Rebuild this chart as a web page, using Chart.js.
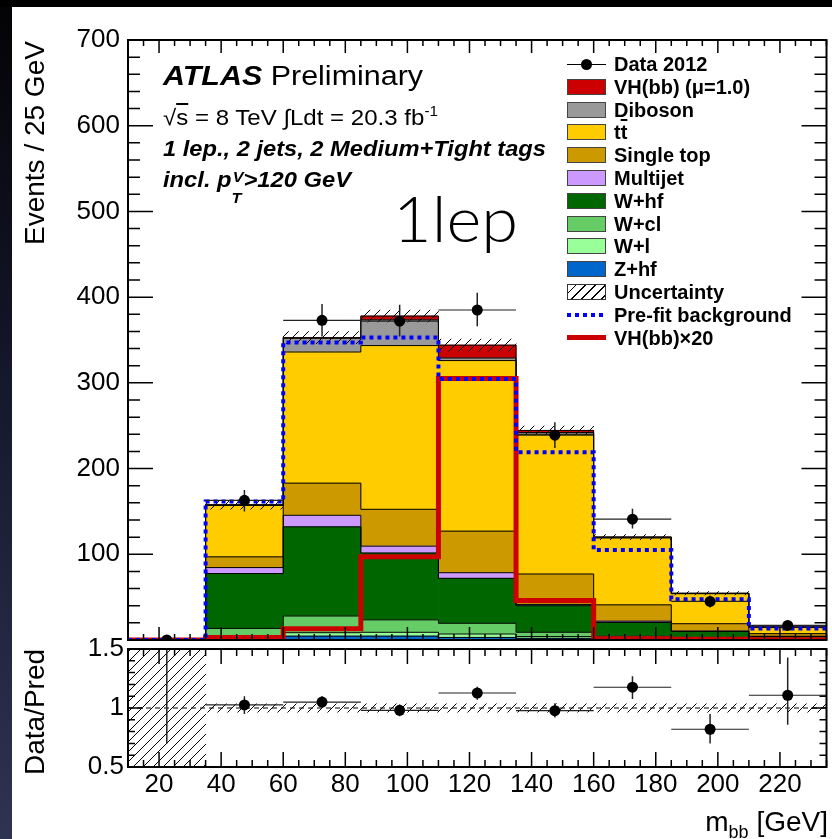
<!DOCTYPE html>
<html>
<head>
<meta charset="utf-8">
<title>m_bb distribution, 1 lepton</title>
<script src="https://cdn.jsdelivr.net/npm/chart.js@4.4.1/dist/chart.umd.min.js"></script>
<style>
  html, body { margin:0; padding:0; background:#fff; overflow:hidden; }
  #wrap { position:relative; width:832px; height:839px; overflow:hidden; background:#fff;
          font-family:'Liberation Sans', Arial, Helvetica, sans-serif; color:#000; }
  #topband { position:absolute; left:0; top:0; width:832px; height:7px; background:#000; }
  #leftband { position:absolute; left:0; top:0; width:12px; height:839px;
              background:linear-gradient(to bottom, #030305 0%, #15172b 45%, #2f3352 100%); }
  canvas { position:absolute; left:0; }
  .t { position:absolute; white-space:nowrap; line-height:1; transform-origin:0 0; }
  .lgtext { font-weight:bold; font-size:20px; }
  .sw { position:absolute; box-sizing:border-box; }
</style>
</head>
<body>
<div id="wrap">
  <div id="leftband"></div>
  <div id="topband"></div>
  <canvas id="cMain" width="832" height="670" style="top:0"></canvas>
  <canvas id="cRatio" width="832" height="229" style="top:610px"></canvas>

  <div class="t fit" data-fit="260" style="left:163px; top:63px; font-size:27px;"><b><i>ATLAS</i></b>&nbsp;Preliminary</div>
  <div class="t fit" data-fit="275" style="left:163px; top:107px; font-size:22px;">√<span style="text-decoration:overline">s</span> = 8 TeV ∫Ldt = 20.3 fb<sup style="font-size:14px;line-height:0;vertical-align:9px">-1</sup></div>
  <div class="t fit" data-fit="383" style="left:163px; top:138px; font-size:22px; font-weight:bold; font-style:italic;">1 lep., 2 jets, 2 Medium+Tight tags</div>
  <div class="t fit" data-fit="188" style="left:163px; top:169px; font-size:22px; font-weight:bold; font-style:italic;">incl. p<span style="position:relative;display:inline-block;width:11px;height:22px;vertical-align:top;"><span style="position:absolute;left:1px;top:0px;font-size:15px;">V</span><span style="position:absolute;left:0;top:21px;font-size:15px;">T</span></span>&gt;120 GeV</div>
  <div class="t fit" data-fit="125" style="left:393px; top:186px; font-size:64px; font-family:Lato,'Open Sans',sans-serif; font-weight:300;">1lep</div>

  <div class="t" id="ytitle" style="font-size:28px;">Events / 25 GeV</div>
  <div class="t" id="rtitle" style="font-size:28px;">Data/Pred</div>
  <div class="t" id="xtitle" style="right:4px; top:808px; font-size:28px;">m<sub style="font-size:18px;line-height:0;vertical-align:-7px">bb</sub> [GeV]</div>

  <div id="legend"></div>
</div>

<script>
// ---------------- data ----------------
const binEdges    = [10, 35, 60, 85, 110, 135, 160, 185, 210, 235];
const zHF         = [0.1, 1.5, 4.5, 4.5, 3, 2, 1, 0.5, 0.3];
const wL          = [0.1, 2, 4, 4.5, 4, 2, 1, 0.5, 0.3];
const wCL         = [0.1, 10, 19.5, 14.5, 12.5, 5, 2.5, 1, 0.5];
const wHF         = [0, 64, 104, 78, 52.5, 31, 16, 8, 3];
const multijet    = [0, 7, 13.5, 8, 6.5, 1.5, 1.5, 0.5, 0.3];
const singleTop   = [0, 12.5, 37.5, 43, 48.5, 35.5, 19, 8.5, 3];
const ttbar       = [0, 60, 153, 191, 199, 163, 78, 35, 7.5];
const diboson     = [0, 0.5, 16, 30, 3, 2, 1, 0.5, 0.2];
const vhSignal    = [0, 0.2, 0.7, 4.5, 15, 2.5, 0.1, 0.05, 0.02];
const bkgUnc      = [0.3, 5, 7, 7, 7, 5, 3, 2, 1];
const preFitBkg   = [0, 161.5, 347, 353, 304.5, 219, 105, 47.5, 13.5];
const vhTimes20   = [0, 3, 13, 97, 305, 46, 1.5, 0.8, 0.3];
const dataVal     = [0, 163, 373, 372, 385, 239, 141, 45, 17];
const dataLo      = [0, 150, 354, 354, 366, 224, 130, 38, 13];
const dataHi      = [0, 175, 392, 391, 405, 254, 153, 52, 21];
const ratioVal    = [null, 1.026, 1.05, 0.98, 1.127, 0.977, 1.176, 0.82, 1.108];
const ratioLo     = [0.70, 0.95, 1.00, 0.93, 1.07, 0.92, 1.077, 0.70, 0.857];
const ratioHi     = [1.50, 1.10, 1.10, 1.03, 1.18, 1.04, 1.27, 0.95, 1.427];
const ratioBandLo = [0.5, 0.965, 0.965, 0.965, 0.965, 0.965, 0.965, 0.965, 0.965];
const ratioBandHi = [1.5, 1.035, 1.035, 1.035, 1.035, 1.035, 1.035, 1.035, 1.035];
const ratioRef    = 1;
const xTickLabels = [20, 40, 60, 80, 100, 120, 140, 160, 180, 200, 220];
const yTickLabels = [100, 200, 300, 400, 500, 600, 700];
const ratioTickLabels = [0.5, 1, 1.5];

// ---------------- styles ----------------
const stack       = [zHF, wL, wCL, wHF, multijet, singleTop, ttbar, diboson, vhSignal];
const stackColors = ['#0066cc', '#99ff99', '#66cc66', '#006600', '#cc99ff', '#cc9900', '#ffcc00', '#999999', '#cc0000'];

Chart.defaults.font.family = "'Liberation Sans', Arial, Helvetica, sans-serif";
Chart.defaults.color = '#000';

const centers = binEdges.slice(0, -1).map((e, i) => (e + binEdges[i + 1]) / 2);
const xMin = binEdges[0], xMax = binEdges[binEdges.length - 1];
const stepPts = arr => [...arr.map((v, i) => ({x: binEdges[i], y: v})), {x: xMax, y: arr[arr.length - 1]}];

function makeHatch(canvas, s, lw) {
  const c = document.createElement('canvas'); c.width = s; c.height = s;
  const g = c.getContext('2d');
  g.strokeStyle = '#000'; g.lineWidth = lw;
  g.beginPath();
  g.moveTo(-1, s + 1); g.lineTo(s + 1, -1);
  g.moveTo(-2, 2); g.lineTo(2, -2);
  g.moveTo(s - 2, s + 2); g.lineTo(s + 2, s - 2);
  g.stroke();
  return canvas.getContext('2d').createPattern(c, 'repeat');
}

const innerTicks = {
  id: 'innerTicks',
  afterDatasetsDraw(chart, args, o) {
    const {ctx, chartArea: a} = chart;
    const xs = chart.scales.x, ys = chart.scales.y;
    ctx.save();
    ctx.strokeStyle = '#000';
    ctx.lineWidth = o.tickWidth;
    ctx.beginPath();
    for (let k = 0; ; k++) {
      const v = xs.min + k * o.xMinor;
      if (v > xs.max + 1e-6) break;
      const major = Math.abs(v / o.xMajor - Math.round(v / o.xMajor)) < 1e-6;
      const L = major ? o.xMajorLen : o.xMinorLen;
      const p = xs.getPixelForValue(v);
      ctx.moveTo(p, a.bottom); ctx.lineTo(p, a.bottom - L);
      ctx.moveTo(p, a.top); ctx.lineTo(p, a.top + L);
    }
    for (let k = 0; ; k++) {
      const v = ys.min + k * o.yMinor;
      if (v > ys.max + 1e-6) break;
      const major = Math.abs(v / o.yMajor - Math.round(v / o.yMajor)) < 1e-6;
      const L = major ? o.yMajorLen : o.yMinorLen;
      const p = ys.getPixelForValue(v);
      ctx.moveTo(a.left, p); ctx.lineTo(a.left + L, p);
      ctx.moveTo(a.right, p); ctx.lineTo(a.right - L, p);
    }
    ctx.stroke();
    ctx.lineWidth = o.frameWidth;
    ctx.strokeRect(a.left, a.top, a.right - a.left, a.bottom - a.top);
    ctx.restore();
  }
};

// ---------------- main panel ----------------
const cMain = document.getElementById('cMain');
const hatchMain = makeHatch(cMain, 10, 1);
const mainDatasets = [];
let base = centers.map(() => 0);
stack.forEach((vals, k) => {
  const lo = base, hi = base.map((b, i) => b + vals[i]);
  mainDatasets.push({type: 'bar', xAxisID: 'x', yAxisID: 'y',
    data: centers.map((c, i) => ({x: c, y: [lo[i], hi[i]]})),
    backgroundColor: stackColors[k], borderWidth: 0, grouped: false,
    barPercentage: 1, categoryPercentage: 1, order: 20 + k});
  mainDatasets.push({type: 'line', xAxisID: 'x', yAxisID: 'y', data: stepPts(hi), stepped: true,
    borderColor: '#000', borderWidth: 1, pointRadius: 0, fill: false, order: 10});
  base = hi;
});
const total = base;
mainDatasets.push({type: 'bar', xAxisID: 'x', yAxisID: 'y',
  data: centers.map((c, i) => ({x: c, y: [total[i] - bkgUnc[i], total[i] + bkgUnc[i]]})),
  backgroundColor: hatchMain, borderWidth: 0, grouped: false, barPercentage: 1, categoryPercentage: 1, order: 8});
mainDatasets.push({type: 'line', xAxisID: 'x', yAxisID: 'y', data: stepPts(vhTimes20), stepped: true,
  borderColor: '#cc0000', borderWidth: 5, borderJoinStyle: 'miter', pointRadius: 0, fill: false, order: 6});
mainDatasets.push({type: 'line', xAxisID: 'x', yAxisID: 'y', data: stepPts(preFitBkg), stepped: true,
  borderColor: '#0000ff', borderWidth: 4, borderDash: [4, 4], pointRadius: 0, fill: false, order: 5});
mainDatasets.push({type: 'line', xAxisID: 'x', yAxisID: 'y',
  data: centers.flatMap((c, i) => [{x: c, y: dataLo[i]}, {x: c, y: dataHi[i]}, {x: c, y: null}]),
  borderColor: '#222', borderWidth: 1.5, pointRadius: 0, fill: false, spanGaps: false, order: 2});
mainDatasets.push({type: 'line', xAxisID: 'x', yAxisID: 'y',
  data: centers.flatMap((c, i) => [{x: binEdges[i], y: dataVal[i]}, {x: binEdges[i + 1], y: dataVal[i]}, {x: binEdges[i + 1], y: null}]),
  borderColor: '#222', borderWidth: 1.2, pointRadius: 0, fill: false, spanGaps: false, order: 2});
mainDatasets.push({type: 'scatter', xAxisID: 'x', yAxisID: 'y',
  data: centers.map((c, i) => ({x: c, y: dataVal[i]})),
  pointRadius: 5.5, pointBackgroundColor: '#000', pointBorderWidth: 0, clip: 0, order: 0});

new Chart(cMain, {
  type: 'bar',
  data: {datasets: mainDatasets},
  options: {
    responsive: false, animation: false, events: [],
    layout: {padding: {left: 0, right: 4, top: 40, bottom: 30}},
    plugins: {legend: {display: false}, tooltip: {enabled: false},
      innerTicks: {xMajor: 20, xMinor: 5, xMajorLen: 13, xMinorLen: 6,
                   yMajor: 100, yMinor: 20, yMajorLen: 25, yMinorLen: 12, tickWidth: 1.5, frameWidth: 2}},
    scales: {
      x: {type: 'linear', min: xMin, max: xMax, offset: false, display: false,
          afterBuildTicks: s => { s.ticks = []; }},
      y: {type: 'linear', min: 0, max: 700, offset: false,
          grid: {display: false, drawTicks: false}, border: {display: false},
          ticks: {padding: 8, font: {size: 26}, color: '#000', callback: v => String(v)},
          afterBuildTicks: s => { s.ticks = yTickLabels.map(v => ({value: v})); },
          afterFit: s => { s.width = 128; }}
    }
  },
  plugins: [innerTicks]
});

// ---------------- ratio panel ----------------
const cRatio = document.getElementById('cRatio');
const hatchRatio = makeHatch(cRatio, 10, 1);
const ratioDatasets = [
  {type: 'bar', xAxisID: 'x', yAxisID: 'y',
   data: centers.map((c, i) => ({x: c, y: [ratioBandLo[i], ratioBandHi[i]]})),
   backgroundColor: hatchRatio, borderWidth: 0, grouped: false, barPercentage: 1, categoryPercentage: 1, order: 5},
  {type: 'line', xAxisID: 'x', yAxisID: 'y', data: [{x: xMin, y: ratioRef}, {x: xMax, y: ratioRef}],
   borderColor: '#000', borderWidth: 1, borderDash: [5, 4], pointRadius: 0, fill: false, order: 4},
  {type: 'line', xAxisID: 'x', yAxisID: 'y',
   data: centers.flatMap((c, i) => [{x: c, y: ratioLo[i]}, {x: c, y: ratioHi[i]}, {x: c, y: null}]),
   borderColor: '#222', borderWidth: 1.5, pointRadius: 0, fill: false, spanGaps: false, order: 2},
  {type: 'line', xAxisID: 'x', yAxisID: 'y',
   data: centers.flatMap((c, i) => ratioVal[i] === null ? [] :
     [{x: binEdges[i], y: ratioVal[i]}, {x: binEdges[i + 1], y: ratioVal[i]}, {x: binEdges[i + 1], y: null}]),
   borderColor: '#222', borderWidth: 1.2, pointRadius: 0, fill: false, spanGaps: false, order: 2},
  {type: 'scatter', xAxisID: 'x', yAxisID: 'y',
   data: centers.map((c, i) => ({x: c, y: ratioVal[i]})),
   pointRadius: 5.5, pointBackgroundColor: '#000', pointBorderWidth: 0, order: 0}
];

new Chart(cRatio, {
  type: 'bar',
  data: {datasets: ratioDatasets},
  options: {
    responsive: false, animation: false, events: [],
    layout: {padding: {left: 0, right: 4, top: 39, bottom: 0}},
    plugins: {legend: {display: false}, tooltip: {enabled: false},
      innerTicks: {xMajor: 20, xMinor: 5, xMajorLen: 15, xMinorLen: 7,
                   yMajor: 0.5, yMinor: 0.1, yMajorLen: 15, yMinorLen: 7, tickWidth: 1.5, frameWidth: 2}},
    scales: {
      x: {type: 'linear', min: xMin, max: xMax, offset: false, display: false,
          afterBuildTicks: s => { s.ticks = []; }},
      xl: {type: 'linear', axis: 'x', position: 'bottom', min: xMin, max: xMax, offset: false,
           grid: {display: false, drawTicks: false}, border: {display: false},
           ticks: {autoSkip: false, maxRotation: 0, minRotation: 0, padding: 2, font: {size: 26}, color: '#000',
                   callback: v => String(v)},
           afterBuildTicks: s => { s.ticks = xTickLabels.map(v => ({value: v})); },
           afterFit: s => { s.height = 72; }},
      y: {type: 'linear', min: 0.5, max: 1.5, offset: false,
          grid: {display: false, drawTicks: false}, border: {display: false},
          ticks: {padding: 4, font: {size: 26}, color: '#000', callback: v => String(v)},
          afterBuildTicks: s => { s.ticks = ratioTickLabels.map(v => ({value: v})); },
          afterFit: s => { s.width = 128; }}
    }
  },
  plugins: [innerTicks]
});

// ---------------- legend ----------------
const legendItems = [
  {label: 'Data 2012', kind: 'data'},
  {label: 'VH(bb) (μ=1.0)', kind: 'fill', color: stackColors[8]},
  {label: 'Diboson', kind: 'fill', color: stackColors[7]},
  {label: 't<span style="text-decoration:overline">t</span>', kind: 'fill', color: stackColors[6]},
  {label: 'Single top', kind: 'fill', color: stackColors[5]},
  {label: 'Multijet', kind: 'fill', color: stackColors[4]},
  {label: 'W+hf', kind: 'fill', color: stackColors[3]},
  {label: 'W+cl', kind: 'fill', color: stackColors[2]},
  {label: 'W+l', kind: 'fill', color: stackColors[1]},
  {label: 'Z+hf', kind: 'fill', color: stackColors[0]},
  {label: 'Uncertainty', kind: 'hatch'},
  {label: 'Pre-fit background', kind: 'prefit'},
  {label: 'VH(bb)×20', kind: 'vh20'}
];
const lg = document.getElementById('legend');
legendItems.forEach((it, i) => {
  const cy = 64 + i * 22.8;
  let sw = '';
  if (it.kind === 'data') {
    sw = `<div class="sw" style="left:567px;top:${cy - 0.5}px;width:39px;height:1px;background:#000"></div>` +
         `<div class="sw" style="left:581px;top:${cy - 5.5}px;width:11px;height:11px;border-radius:50%;background:#000"></div>`;
  } else if (it.kind === 'fill') {
    sw = `<div class="sw" style="left:567px;top:${cy - 8}px;width:39px;height:16px;background:${it.color};border:1px solid #444"></div>`;
  } else if (it.kind === 'hatch') {
    sw = `<div class="sw" style="left:567px;top:${cy - 8}px;width:39px;height:16px;border:1px solid #333;` +
         `background:repeating-linear-gradient(135deg, #fff 0 5px, #000 5px 6px, #fff 6px 7px)"></div>`;
  } else if (it.kind === 'prefit') {
    sw = `<div class="sw" style="left:567px;top:${cy - 2}px;width:39px;height:4px;` +
         `background:repeating-linear-gradient(90deg, #0000ff 0 4px, transparent 4px 8px)"></div>`;
  } else if (it.kind === 'vh20') {
    sw = `<div class="sw" style="left:567px;top:${cy - 2.5}px;width:39px;height:5px;background:#cc0000"></div>`;
  }
  lg.insertAdjacentHTML('beforeend', sw + `<div class="t lgtext" style="left:614px;top:${cy - 10}px">${it.label}</div>`);
});

// ---------------- text layout helpers ----------------
function layoutText() {
  document.querySelectorAll('.fit').forEach(el => {
    el.style.transform = 'none';
    const w = el.getBoundingClientRect().width;
    el.style.transform = `scaleX(${(+el.dataset.fit) / w})`;
  });
  const place = (el, baselineX, opts) => {
    el.style.transform = 'none';
    const w = el.getBoundingClientRect().width;
    const f = parseFloat(el.style.fontSize);
    el.style.left = (baselineX - 0.85 * f) + 'px';
    el.style.top = (opts.center !== undefined ? opts.center + w / 2 : opts.topEnd + w) + 'px';
    el.style.transform = 'rotate(-90deg)';
  };
  place(document.getElementById('ytitle'), 45, {topEnd: 41});
  place(document.getElementById('rtitle'), 45, {center: 712});
}
layoutText();
if (document.fonts && document.fonts.ready) document.fonts.ready.then(layoutText);
</script>
</body>
</html>
